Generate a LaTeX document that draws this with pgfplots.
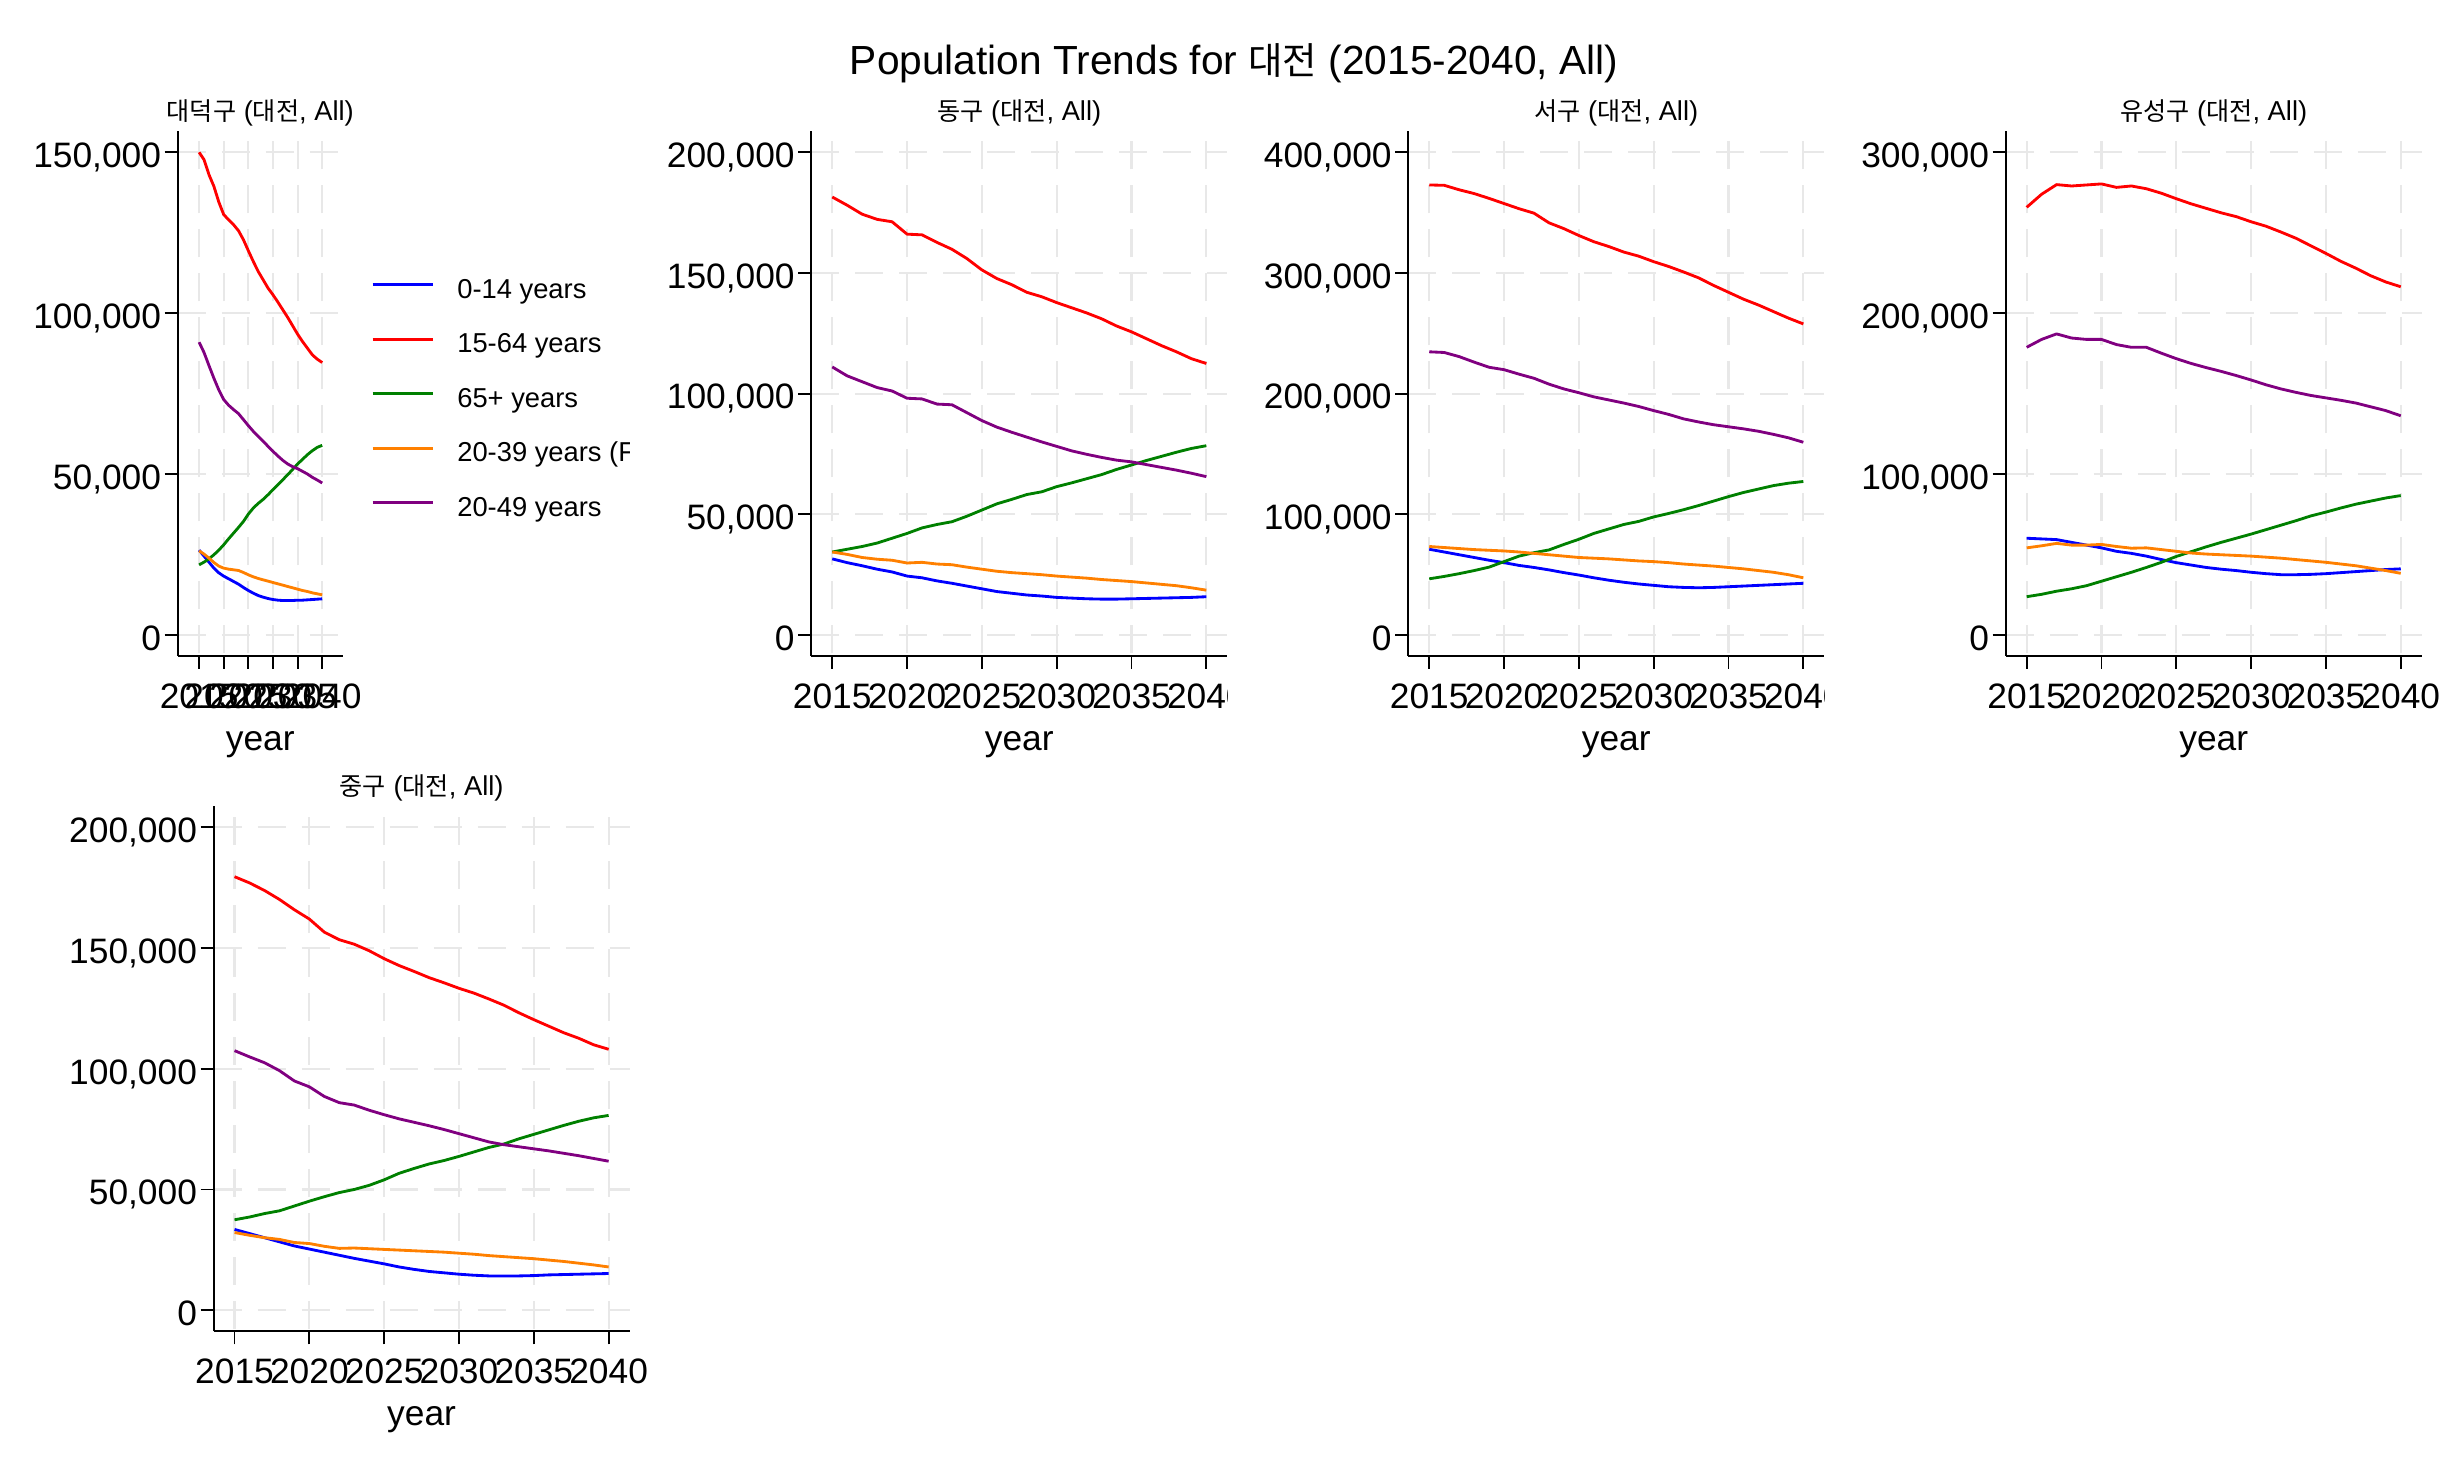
\documentclass[border=0pt]{standalone}
\usepackage{fontspec}
\setmainfont{Liberation Sans}
\newfontfamily\kr{Noto Sans CJK KR}[Scale=0.92]
\usepackage{pgfplots}
\usepackage{pgfplotstable}
\pgfplotsset{compat=1.18}

\definecolor{gridc}{RGB}{232,232,232}
\definecolor{cA}{RGB}{0,0,255}
\definecolor{cB}{RGB}{255,0,0}
\definecolor{cC}{RGB}{0,128,0}
\definecolor{cD}{RGB}{255,128,0}
\definecolor{cE}{RGB}{128,0,128}

% yr: year, b: 0-14, r: 15-64, g: 65+, o: 20-39 (F), p: 20-49
\pgfplotstableread{
yr b r g o p
2015 26349 150000 21785 26142 90978
2016 24482 147718 22615 25105 87762
2017 22615 143050 23653 23860 83717
2018 20748 139420 24897 22511 79775
2019 19296 134545 26350 21370 76144
2020 18258 130603 28010 20748 73132
2021 17429 129047 29877 20437 71368
2022 16599 127491 31640 20229 70020
2023 15769 125624 33403 20022 68775
2024 14731 122823 35270 19400 66908
2025 13798 119400 37552 18674 65041
2026 12968 116081 39420 18051 63277
2027 12242 112969 40872 17532 61721
2028 11723 110375 42117 17117 60166
2029 11308 107782 43569 16702 58610
2030 10997 105708 45125 16288 57054
2031 10790 103426 46681 15873 55601
2032 10686 101040 48237 15458 54253
2033 10686 98654 49793 15043 53112
2034 10686 96061 51452 14628 52282
2035 10790 93468 53112 14213 51660
2036 10790 91186 54564 13798 50830
2037 10894 89111 56016 13487 50000
2038 10997 87036 57261 13072 48963
2039 11101 85688 58298 12761 48133
2040 11205 84650 58921 12450 47199
}\daedeok

\pgfplotstableread{
yr b r g o p
2015 31504 181466 34355 34355 111046
2016 29936 178045 35495 33357 107340
2017 28653 174339 36635 32074 104917
2018 27227 172200 38061 31361 102494
2019 26087 171203 40057 30933 101068
2020 24376 166071 42052 29793 98075
2021 23663 165786 44333 30078 97789
2022 22380 162650 45759 29365 95651
2023 21383 159799 46899 29080 95366
2024 20242 155950 49180 28082 92088
2025 19102 151246 51746 27227 88809
2026 17961 147682 54312 26372 86101
2027 17249 145116 56165 25802 83963
2028 16536 141980 58160 25374 81967
2029 16108 140127 59301 24946 79971
2030 15538 137703 61439 24376 78118
2031 15253 135565 63007 23948 76265
2032 14968 133427 64718 23521 74839
2033 14825 131004 66429 22951 73556
2034 14825 128010 68567 22523 72416
2035 14968 125587 70420 22095 71703
2036 15110 122736 72273 21525 70563
2037 15253 119885 73983 20955 69422
2038 15396 117319 75694 20385 68282
2039 15538 114468 77262 19529 67000
2040 15823 112472 78403 18532 65574
}\donggu

\pgfplotstableread{
yr b r g o p
2015 70990 372911 46471 73271 234637
2016 68709 372626 48467 72416 234067
2017 66429 368920 50748 71561 230646
2018 64148 365783 53314 70705 226084
2019 61867 361792 56165 70135 221808
2020 59871 357515 60726 69565 219812
2021 57590 353239 65288 68709 216106
2022 55880 349533 68139 67569 212685
2023 53884 341550 70420 66429 207838
2024 51603 336703 74981 65288 203847
2025 49607 331001 79258 64148 200710
2026 47327 325869 84105 63578 197289
2027 45331 321878 87811 63007 194723
2028 43620 317316 91517 62152 192157
2029 42195 313895 94083 61297 189306
2030 41054 309334 97789 60726 185885
2031 39914 305342 100640 59871 182749
2032 39344 300781 103776 58731 179043
2033 39059 295934 107198 57875 176477
2034 39344 289662 110904 57020 174196
2035 39914 283960 114610 55880 172486
2036 40484 278258 118031 54739 170775
2037 41054 273411 120882 53314 168779
2038 41625 267994 123733 51888 166213
2039 42195 262577 125729 49892 163362
2040 42765 257730 127155 47327 159656
}\seogu

\pgfplotstableread{
yr b r g o p
2015 60086 265791 23735 54099 178762
2016 59659 273916 25232 55382 183680
2017 59231 279903 27156 56879 187101
2018 57520 279048 28653 55810 184535
2019 55810 279690 30578 55810 183680
2020 54099 280331 33357 56237 183680
2021 51961 278193 36137 54954 180473
2022 50678 279048 38917 53885 178762
2023 48967 277338 41911 54099 178762
2024 46829 274558 45118 53030 175127
2025 44904 271137 48753 51961 171705
2026 43407 267929 51747 50892 168712
2027 41911 265150 54740 50250 166146
2028 40842 262370 57520 49822 163794
2029 39986 260018 60086 49395 161228
2030 38917 256810 62652 48967 158448
2031 38062 254030 65432 48325 155455
2032 37420 250395 68212 47684 152888
2033 37420 246546 70992 46829 150750
2034 37634 241842 73985 45973 148826
2035 38062 237137 76337 45118 147329
2036 38703 232219 78903 44049 145832
2037 39345 227943 81255 42980 144121
2038 39986 223239 83180 41483 141769
2039 40628 219390 85104 39986 139417
2040 41055 216396 86601 38275 136210
}\yuseong

\pgfplotstableread{
yr b r g o p
2015 33499 179470 37491 32216 107483
2016 31789 176905 38631 31076 104917
2017 30078 173768 40057 30078 102494
2018 28367 170062 41197 29365 99215
2019 26657 165786 43193 28082 94938
2020 25374 161937 45188 27655 92515
2021 24091 156520 47042 26514 88524
2022 22808 153384 48752 25659 85958
2023 21525 151531 50035 25802 84960
2024 20385 148822 51746 25516 82822
2025 19244 145544 54027 25231 80969
2026 17961 142693 56735 24946 79258
2027 16963 140270 58731 24661 77833
2028 16108 137704 60584 24376 76407
2029 15538 135566 62009 24091 74839
2030 14968 133285 63720 23663 73129
2031 14540 131289 65573 23236 71418
2032 14255 128866 67426 22665 69707
2033 14255 126300 68852 22238 68567
2034 14255 123164 70990 21810 67711
2035 14398 120313 72843 21383 66856
2036 14683 117604 74696 20812 66001
2037 14825 114896 76549 20242 65003
2038 14968 112615 78260 19529 64005
2039 15111 109907 79685 18816 62865
2040 15253 108053 80683 17961 61724
}\junggu

\pgfplotsset{
  panel/.style={
    scale only axis,
    anchor=south west,
    width=124.8pt, height=157.38pt,
    xmin=2013.6, xmax=2041.4,
    xtick={2015,2020,2025,2030,2035,2040},
    xticklabels={2015,2020,2025,2030,2035,2040},
    axis x line*=bottom, axis y line*=left,
    axis line style={black, line width=0.55pt},
    tick style={black, line width=0.55pt},
    major tick length=3.9pt,
    tick align=outside,
    grid=major,
    x grid style={gridc, line width=0.65pt, dash pattern=on 8.4pt off 4.8pt, dash phase=12.45pt},
    y grid style={gridc, line width=0.65pt, dash pattern=on 8.4pt off 4.8pt},
    scaled ticks=false,
    ticklabel style={font=\fontsize{10.6}{12}\selectfont, inner sep=0pt},
    xticklabel style={anchor=base, yshift=-11.8pt},
    yticklabel style={anchor=base east, xshift=-0.9pt, yshift=-4.6pt},
    xlabel={year},
    xlabel style={font=\fontsize{10.6}{12}\selectfont, at={(0.5,0)}, anchor=center, yshift=-26.6pt},
    title style={font=\fontsize{8.2}{10}\selectfont, at={(0.5,1)}, anchor=center, yshift=-0.5pt},
    every axis plot/.append style={line width=0.85pt, no markers, line join=round},
  }
}
\newcommand{\allseries}[1]{%
  \addplot[cA] table[x=yr,y=b] {#1};
  \addplot[cB] table[x=yr,y=r] {#1};
  \addplot[cC] table[x=yr,y=g] {#1};
  \addplot[cD] table[x=yr,y=o] {#1};
  \addplot[cE] table[x=yr,y=p] {#1};
}

\begin{document}
\begin{tikzpicture}
\useasboundingbox (0,0) rectangle (736.8pt,442.2pt);

\node[font=\fontsize{12.2}{14}\selectfont] at (370.2pt,423.2pt)
  {Population Trends for {\kr 대전} (2015-2040, All)};

% 대덕구 with legend
\begin{scope}
\clip (0,0) rectangle (188.85pt,442.2pt);
\begin{axis}[panel,
  at={(53.31pt,245.43pt)}, width=49.56pt,
  xmin=2010.65, xmax=2044.2,
  ymin=-6528, ymax=156528,
  ytick={0,50000,100000,150000},
  yticklabels={0,{50,000},{100,000},{150,000}},
  title={{\kr 대덕구} ({\kr 대전}, All)},
  legend cell align=left,
  legend image code/.code={\draw[#1] (0pt,4.1pt) -- (18pt,4.1pt);},
  legend style={at={(1.167,0.488)}, anchor=west, draw=none, fill=none,
    inner sep=0pt, row sep=8.85pt,
    nodes={inner sep=0pt, font=\fontsize{8.2}{10}\selectfont,
      text height=6pt, text depth=1.5pt, anchor=base west},
    /tikz/every odd column/.append style={column sep=7pt}},
]
\allseries{\daedeok}
\legend{0-14 years, 15-64 years, 65+ years, 20-39 years (Female), 20-49 years}
\end{axis}
\end{scope}

% 동구
\begin{scope}
\clip (189pt,0) rectangle (368.25pt,442.2pt);
\begin{axis}[panel,
  at={(243.39pt,245.43pt)},
  ymin=-8703, ymax=208703,
  ytick={0,50000,100000,150000,200000},
  yticklabels={0,{50,000},{100,000},{150,000},{200,000}},
  title={{\kr 동구} ({\kr 대전}, All)},
]
\allseries{\donggu}
\end{axis}
\end{scope}

% 서구
\begin{scope}
\clip (369pt,0) rectangle (547.4pt,442.2pt);
\begin{axis}[panel,
  at={(422.49pt,245.43pt)},
  ymin=-17406, ymax=417406,
  ytick={0,100000,200000,300000,400000},
  yticklabels={0,{100,000},{200,000},{300,000},{400,000}},
  title={{\kr 서구} ({\kr 대전}, All)},
]
\allseries{\seogu}
\end{axis}
\end{scope}

% 유성구
\begin{axis}[panel,
  at={(601.71pt,245.43pt)},
  ymin=-13055, ymax=313055,
  ytick={0,100000,200000,300000},
  yticklabels={0,{100,000},{200,000},{300,000}},
  title={{\kr 유성구} ({\kr 대전}, All)},
]
\allseries{\yuseong}
\end{axis}

% 중구
\begin{axis}[panel,
  at={(64.08pt,42.78pt)}, height=157.6pt,
  ymin=-8703, ymax=208703,
  ytick={0,50000,100000,150000,200000},
  yticklabels={0,{50,000},{100,000},{150,000},{200,000}},
  title={{\kr 중구} ({\kr 대전}, All)},
]
\allseries{\junggu}
\end{axis}
\end{tikzpicture}
\end{document}
